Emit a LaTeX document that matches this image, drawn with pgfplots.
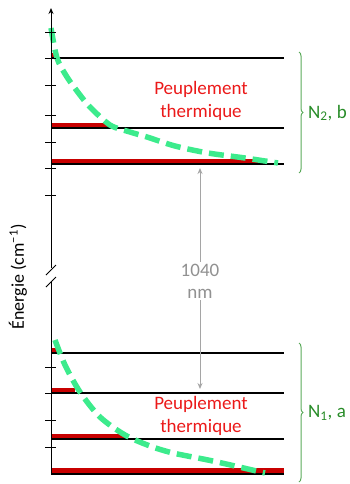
\documentclass[border=0pt]{standalone}
\usepackage{pgfplots}
\pgfplotsset{compat=1.18}
\usepackage{fontspec}
\setmainfont{Carlito}
\usetikzlibrary{arrows.meta,decorations.pathreplacing}
\definecolor{barred}{RGB}{200,0,0}
\definecolor{txtred}{RGB}{235,25,25}
\definecolor{dgreen}{RGB}{60,235,140}
\definecolor{brgreen}{RGB}{90,170,90}
\definecolor{lblgreen}{RGB}{40,140,40}
\definecolor{agray}{RGB}{165,165,165}
\definecolor{tgray}{RGB}{145,145,145}
\begin{document}
\begin{tikzpicture}
\begin{axis}[width=350pt,height=484pt,scale only axis,
  xmin=0,xmax=350,ymin=0,ymax=484,y dir=reverse,hide axis,clip=false]
% red population bars (x start, x end at level y)
\addplot[barred,line width=5pt] coordinates {(51,55.5)(58,55.5)};
\addplot[barred,line width=5pt] coordinates {(51,125.5)(110,125.5)};
\addplot[barred,line width=5pt] coordinates {(51,161)(265,161)};
\addplot[barred,line width=5pt] coordinates {(51,350.5)(57,350.5)};
\addplot[barred,line width=5pt] coordinates {(51,390.5)(75,390.5)};
\addplot[barred,line width=5pt] coordinates {(51,436.5)(125,436.5)};
\addplot[barred,line width=5pt] coordinates {(51,470.5)(284,470.5)};
% energy levels
\addplot[black,line width=1.6pt] coordinates {(51,58)(284,58)};
\addplot[black,line width=1.6pt] coordinates {(51,128)(284,128)};
\addplot[black,line width=1.6pt] coordinates {(51,164)(284,164)};
\addplot[black,line width=1.6pt] coordinates {(51,353)(284,353)};
\addplot[black,line width=1.6pt] coordinates {(51,393)(284,393)};
\addplot[black,line width=1.6pt] coordinates {(51,439)(284,439)};
\addplot[black,line width=1.6pt] coordinates {(51,474)(284,474)};
% thermal population curves
\addplot[dgreen,line width=5.5pt,dash pattern=on 15pt off 7pt,smooth] coordinates {
(51,28)(57,58)(67,77)(80,95)(90,107)(110,125)(130,132)(147,137)(175,146)(208,153)(245,158)(278,163)};
\addplot[dgreen,line width=5.5pt,dash pattern=on 15pt off 7pt,smooth] coordinates {
(55,340)(65,365)(80,392)(100,417)(125,435)(150,446)(173,453)(208,460)(235,466)(265,473)};
% axis
\draw[black,line width=1pt,-{Stealth[length=6pt,width=5pt]}] (axis cs:51,268) -- (axis cs:51,8);
\draw[black,line width=1pt] (axis cs:51,282) -- (axis cs:51,475);
\draw[black,line width=0.8pt] (axis cs:46,275) -- (axis cs:56,265);
\draw[black,line width=0.8pt] (axis cs:46,287) -- (axis cs:56,277);
\pgfplotsinvokeforeach{32,58,85,115,142,168,195,367,393,420,447}{
  \draw[black,line width=0.8pt] (axis cs:45,#1) -- (axis cs:56,#1);}
% transition arrow
\draw[agray,line width=1pt,{Stealth[length=6pt,width=5pt]}-{Stealth[length=6pt,width=5pt]}] (axis cs:200,168) -- (axis cs:200,389);
\node[fill=white,inner sep=2pt,align=center,text=tgray,font=\fontsize{19}{22}\selectfont] at (axis cs:200,281) {1040\\nm};
% labels
\node[align=center,text=txtred,font=\fontsize{19}{23}\selectfont] at (axis cs:201,101) {Peuplement\\thermique};
\node[align=center,text=txtred,font=\fontsize{19}{23}\selectfont] at (axis cs:201,416) {Peuplement\\thermique};
% braces
\draw[brgreen,line width=1pt,decorate,decoration={brace,amplitude=4pt}] (axis cs:299,52) -- (axis cs:299,173);
\draw[brgreen,line width=1pt,decorate,decoration={brace,amplitude=4pt}] (axis cs:299,343) -- (axis cs:299,482);
\node[anchor=west,text=lblgreen,font=\fontsize{19}{22}\selectfont,inner sep=0pt] at (axis cs:308,113) {N\textsubscript{2}, b};
\node[anchor=west,text=lblgreen,font=\fontsize{19}{22}\selectfont,inner sep=0pt] at (axis cs:308,413) {N\textsubscript{1}, a};
\end{axis}
\node[rotate=90,font=\fontsize{18}{20}\selectfont] at (18pt,207pt) {Énergie (cm\textsuperscript{−1})};
\pgfresetboundingbox
\path (0,0) rectangle (350pt,484pt);
\end{tikzpicture}
\end{document}
